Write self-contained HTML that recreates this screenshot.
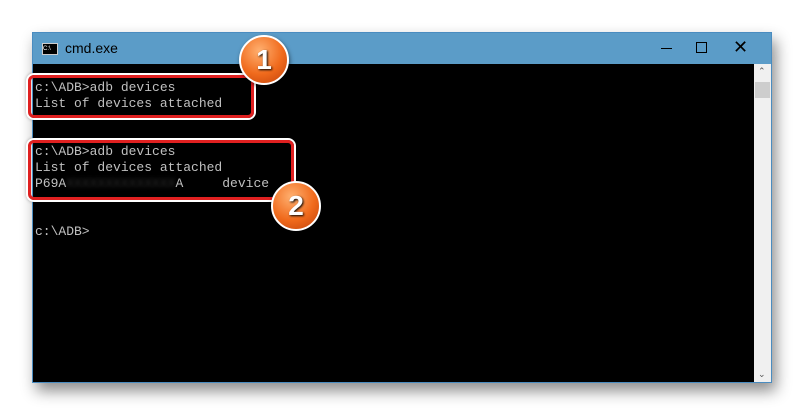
<!DOCTYPE html>
<html><head><style>
body{margin:0;width:803px;height:416px;background:#fff;position:relative;overflow:hidden;font-family:"Liberation Sans",sans-serif}
.win{position:absolute;left:32px;top:32px;width:740px;height:351px;background:#000;border:1px solid #4a8cc0;box-sizing:border-box;box-shadow:4px 8px 14px rgba(0,0,0,.45)}
.tb{position:absolute;left:0;top:0;right:0;height:31px;background:#5b9cc8}
.tb .t{position:absolute;left:32px;top:7px;font-size:14px;color:#000}
.ic{position:absolute;left:9px;top:10px;width:14px;height:10px;background:#000;border:1px solid #ccc;color:#fff;font-size:6px;line-height:10px}
.sb{position:absolute;right:0;top:31px;width:17px;bottom:0;background:#f0f0f0}
.th{position:absolute;left:1px;top:18px;width:15px;height:16px;background:#cdcdcd}
pre{position:absolute;margin:0;left:2px;font-family:"Liberation Mono",monospace;font-size:13px;line-height:16px;color:#c0c0c0}
.box{position:absolute;border:3px solid #e02020;border-radius:6px;box-shadow:0 0 0 2px #fff,0 0 3px 2px rgba(0,0,0,.3)}
.c{position:absolute;width:46px;height:46px;border-radius:50%;border:2px solid #fff;background:radial-gradient(circle at 40% 30%,#ffb070,#f06a1c 55%,#c0400a);box-shadow:1px 2px 4px rgba(0,0,0,.5);color:#fff;font-weight:bold;font-size:28px;text-align:center;line-height:46px;text-shadow:1px 1px 2px #000}
</style></head><body>
<div class="win">
<div class="tb"><div class="ic">C:\</div><div class="t">cmd.exe</div>
<div style="position:absolute;left:628px;top:15px;width:11px;height:1px;background:#000"></div>
<div style="position:absolute;left:663px;top:9px;width:9px;height:9px;border:1px solid #000"></div>
<div style="position:absolute;left:700px;top:4px;font-size:18px;color:#000">✕</div>
</div>
<div class="sb"><div style="position:absolute;top:2px;left:4px;font-size:9px;color:#555">⌃</div><div class="th"></div><div style="position:absolute;bottom:2px;left:4px;font-size:9px;color:#555">⌄</div></div>
<pre style="top:47px">c:\ADB&gt;adb devices
List of devices attached


c:\ADB&gt;adb devices
List of devices attached
P69A<span style="color:#333;filter:blur(2px)">XXXXXXXXXXXXXX</span>A     device


c:\ADB&gt;</pre>
</div>
<div class="box" style="left:28px;top:75px;width:220px;height:37px"></div>
<div class="box" style="left:28px;top:140px;width:260px;height:54px"></div>
<div class="c" style="left:239px;top:35px">1</div>
<div class="c" style="left:271px;top:181px">2</div>
</body></html>
